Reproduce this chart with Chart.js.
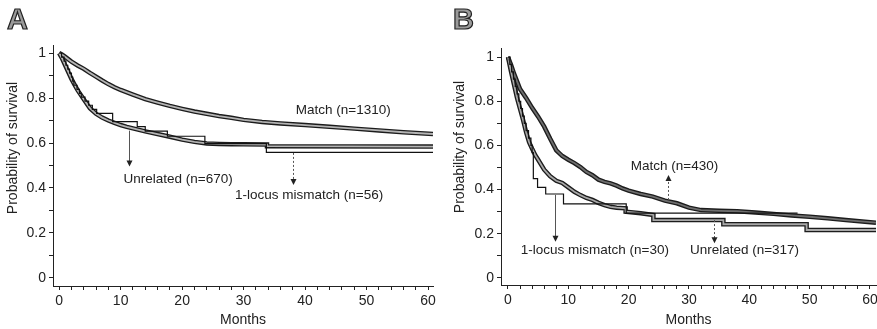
<!DOCTYPE html>
<html>
<head>
<meta charset="utf-8">
<script src="https://cdn.jsdelivr.net/npm/chart.js@4.4.1/dist/chart.umd.min.js"></script>
<style>
  html, body { margin: 0; padding: 0; background: #fff; overflow: hidden; width: 877px; height: 329px; }
  .panel { position: absolute; top: 0; width: 440px; height: 329px; }
  #boxA { left: 0; }
  #boxB { left: 440px; }
</style>
</head>
<body>
<div class="panel" id="boxA"><canvas id="chartA" width="440" height="329"></canvas></div>
<div class="panel" id="boxB"><canvas id="chartB" width="440" height="329"></canvas></div>
<script>
// ---- panel A ----
const monthsMatchA = [0,0.5,1,2,3,4,5,6,7,8,9,10,12,14,16,18,20,22,24,26,28,30,33,36,40,44,48,52,56,60.8];
const survMatchA   = [1,0.993,0.983,0.962,0.945,0.93,0.912,0.895,0.878,0.862,0.848,0.836,0.815,0.795,0.78,0.765,0.752,0.74,0.73,0.72,0.712,0.703,0.694,0.687,0.68,0.672,0.664,0.656,0.648,0.64];

const monthsUnrelA = [0,0.5,1,1.5,2,2.5,3,4,5,6,7,8,9,10,11,12,14,16,18,20,22,24,26,28,30,33.8,33.8,60.8];
const survUnrelA   = [1,0.975,0.945,0.915,0.885,0.86,0.835,0.795,0.755,0.73,0.713,0.7,0.69,0.68,0.672,0.665,0.652,0.64,0.628,0.615,0.605,0.598,0.596,0.595,0.594,0.593,0.586,0.584];

const monthsMisA = [0,0.4,0.8,1.1,1.4,1.7,2.0,2.2,2.4,2.9,3.3,3.6,4.2,4.8,5.4,6.1,8.7,12.7,14.0,17.6,23.7,33.7,60.8];
const survMisA   = [1,0.982,0.964,0.946,0.929,0.911,0.893,0.875,0.857,0.839,0.821,0.804,0.786,0.768,0.75,0.732,0.695,0.673,0.653,0.630,0.597,0.558,0.558];

// ---- panel B ----
const monthsMatchB = [0,0.5,1,2,3,4,5,6,7,8,9,10,11,12,13,14,15,16,17,18,19,20,22,24,26,28,30,32,35,38,41,44,47,50,53,56,61];
const survMatchB   = [1,0.965,0.925,0.855,0.815,0.77,0.73,0.685,0.63,0.578,0.552,0.535,0.52,0.502,0.48,0.465,0.445,0.435,0.428,0.418,0.405,0.395,0.38,0.368,0.35,0.338,0.318,0.307,0.304,0.302,0.296,0.29,0.283,0.277,0.27,0.262,0.25];

const monthsUnrelB = [0,0.5,1,1.5,2,2.5,3,3.5,4,4.5,5,6,7,8,9,10,11,12,13,14,15,16,17,18,19.5,19.5,22,24.1,24.1,35.7,35.7,49.5,49.5,61];
const survUnrelB   = [1,0.935,0.875,0.815,0.765,0.715,0.66,0.615,0.585,0.557,0.535,0.49,0.46,0.44,0.43,0.41,0.39,0.375,0.362,0.353,0.34,0.33,0.322,0.318,0.315,0.3,0.293,0.285,0.262,0.262,0.243,0.243,0.217,0.217];

const monthsMisB = [0,0.3,0.6,0.9,1.2,1.5,1.8,2.1,2.4,2.7,3.0,3.4,3.8,4.0,4.2,4.9,6.25,9.2,19.6,48];
const survMisB   = [1,0.967,0.933,0.9,0.867,0.833,0.8,0.767,0.733,0.7,0.667,0.633,0.6,0.567,0.45,0.41,0.38,0.335,0.293,0.293];

// axes
const xTickMonths = [0,2,4,6,8,10,12,14,16,18,20,22,24,26,28,30,32,34,36,38,40,42,44,46,48,50,52,54,56,58,60];
const yTickValues = [0,0.1,0.2,0.3,0.4,0.5,0.6,0.7,0.8,0.9,1];

// labels and arrows (in months / survival units)
const notesA = [
  {text: 'Match (n=1310)', x: 46.2, y: 0.744},
  {text: 'Unrelated (n=670)', x: 19.35, y: 0.44},
  {text: '1-locus mismatch (n=56)', x: 40.65, y: 0.369}
];
const arrowsA = [
  {x: 11.3, from: 0.655, to: 0.496, dash: false},
  {x: 38, from: 0.556, to: 0.413, dash: true}
];
const notesB = [
  {text: 'Match (n=430)', x: 27.6, y: 0.504},
  {text: '1-locus mismatch (n=30)', x: 14.4, y: 0.127},
  {text: 'Unrelated (n=317)', x: 39.2, y: 0.127}
];
const arrowsB = [
  {x: 7.8, from: 0.376, to: 0.164, dash: false},
  {x: 34.2, from: 0.262, to: 0.157, dash: true},
  {x: 26.6, from: 0.353, to: 0.466, dash: true}
];

const FONT = '"Liberation Sans", Arial, sans-serif';

function pts(xs, ys) {
  return xs.map((x, i) => ({x: x, y: ys[i]}));
}

// thick grey curve with dark edge: drawn twice from the same points
function outlined(xs, ys, inner) {
  return [
    {data: pts(xs, ys), borderColor: '#1c1c1c', borderWidth: 4.5, order: 2},
    {data: pts(xs, ys), borderColor: inner, borderWidth: 1.8, order: 1}
  ];
}
function thin(xs, ys) {
  return [{data: pts(xs, ys), borderColor: '#111', borderWidth: 1.2, stepped: 'before', order: 0}];
}

const notesPlugin = {
  id: 'notes',
  afterDraw(chart, args, o) {
    const ctx = chart.ctx;
    const sx = chart.scales.x, sy = chart.scales.y;
    ctx.save();
    o.arrows.forEach(a => {
      const px = Math.round(sx.getPixelForValue(a.x)) + 0.5;
      const y0 = sy.getPixelForValue(a.from), y1 = sy.getPixelForValue(a.to);
      const dir = y1 > y0 ? 1 : -1;
      ctx.strokeStyle = '#555';
      ctx.lineWidth = 1;
      ctx.setLineDash(a.dash ? [2, 2] : []);
      ctx.beginPath();
      ctx.moveTo(px, y0);
      ctx.lineTo(px, y1 - dir * 5);
      ctx.stroke();
      ctx.setLineDash([]);
      ctx.fillStyle = '#222';
      ctx.beginPath();
      ctx.moveTo(px, y1);
      ctx.lineTo(px - 3, y1 - dir * 6);
      ctx.lineTo(px + 3, y1 - dir * 6);
      ctx.closePath();
      ctx.fill();
    });
    ctx.fillStyle = '#222';
    ctx.font = '13.5px ' + FONT;
    ctx.textAlign = 'center';
    ctx.textBaseline = 'middle';
    o.notes.forEach(n => {
      ctx.fillText(n.text, sx.getPixelForValue(n.x), sy.getPixelForValue(n.y));
    });
    // y-axis title
    ctx.save();
    ctx.translate(o.titleX, o.titleY);
    ctx.rotate(-Math.PI / 2);
    ctx.font = '14px ' + FONT;
    ctx.fillText('Probability of survival', 0, 0);
    ctx.restore();
    // panel letter
    ctx.font = 'bold 29px ' + FONT;
    ctx.textAlign = 'left';
    ctx.textBaseline = 'alphabetic';
    ctx.fillStyle = '#9a9a9a';
    ctx.strokeStyle = '#222';
    ctx.lineWidth = 1.2;
    ctx.fillText(o.letter, o.letterX, 29);
    ctx.strokeText(o.letter, o.letterX, 29);
    ctx.restore();
  }
};

function makeChart(id, datasets, cfg) {
  return new Chart(id, {
    type: 'line',
    data: {datasets: datasets},
    plugins: [notesPlugin],
    options: {
      responsive: false,
      animation: false,
      layout: {padding: {top: cfg.top, right: cfg.right, left: 0, bottom: 0}},
      elements: {point: {radius: 0}, line: {tension: 0, fill: false}},
      plugins: {
        legend: {display: false},
        tooltip: {enabled: false},
        notes: cfg.notes
      },
      scales: {
        x: {
          type: 'linear',
          min: cfg.xMin, max: cfg.xMax,
          border: {display: true, color: '#222', width: 1},
          grid: {display: true, drawOnChartArea: false, drawTicks: true, tickLength: 4, color: '#222'},
          afterBuildTicks: s => { s.ticks = xTickMonths.map(v => ({value: v})); },
          afterFit: s => { s.height = cfg.xHeight; s.paddingLeft = 0; s.paddingRight = 0; },
          ticks: {
            autoSkip: false, maxRotation: 0, color: '#222', padding: 3,
            font: {family: FONT, size: 14},
            callback: v => (v % 10 === 0 ? String(v) : '')
          },
          title: {display: true, text: 'Months', color: '#222', font: {family: FONT, size: 14}, padding: {top: 0, bottom: 0}}
        },
        y: {
          type: 'linear',
          min: cfg.yMin, max: cfg.yMax,
          border: {display: true, color: '#222', width: 1},
          grid: {display: true, drawOnChartArea: false, drawTicks: true, tickLength: 4, color: '#222'},
          afterBuildTicks: s => { s.ticks = yTickValues.map(v => ({value: v})); },
          afterFit: s => { s.width = cfg.yWidth; s.paddingTop = 0; s.paddingBottom = 0; },
          ticks: {
            autoSkip: false, color: '#222', padding: 3,
            font: {family: FONT, size: 14},
            callback: (v, i) => (i % 2 === 0 ? String(Number(v.toFixed(1))) : '')
          }
        }
      }
    }
  });
}

makeChart('chartA',
  [].concat(thin(monthsMisA, survMisA), outlined(monthsMatchA, survMatchA, '#b4b4b4'), outlined(monthsUnrelA, survUnrelA, '#b4b4b4')),
  {top: 45, right: 7, xMin: -1, xMax: 60.8, yMin: -0.036, yMax: 1.036, xHeight: 43, yWidth: 53,
   notes: {notes: notesA, arrows: arrowsA, titleX: 13, titleY: 148, letter: 'A', letterX: 7}});

makeChart('chartB',
  [].concat(thin(monthsMisB, survMisB), outlined(monthsMatchB, survMatchB, '#6e6e6e'), outlined(monthsUnrelB, survUnrelB, '#a8a8a8')),
  {top: 48, right: 4, xMin: -1.16, xMax: 61, yMin: -0.032, yMax: 1.041, xHeight: 44, yWidth: 61,
   notes: {notes: notesB, arrows: arrowsB, titleX: 20, titleY: 147, letter: 'B', letterX: 13}});
</script>
</body>
</html>
